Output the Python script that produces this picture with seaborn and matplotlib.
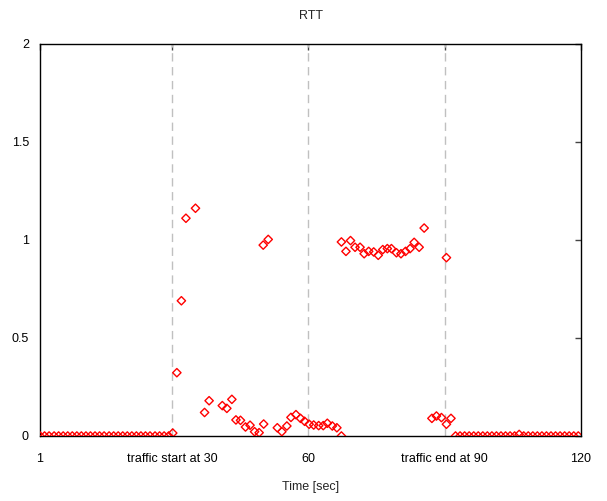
import numpy as np
import pandas as pd
import seaborn as sns
import matplotlib.pyplot as plt

# sample times (sec) and RTT values
time_before = [1.0, 2.0, 3.0, 4.1, 5.1, 6.1, 7.1, 8.1, 9.1, 10.1, 11.1, 12.1, 13.1, 14.1,
               15.1, 16.2, 17.2, 18.2, 19.2, 20.2, 21.2, 22.2, 23.2, 24.2, 25.2, 26.3,
               27.3, 28.3, 29.3]
rtt_before = [0.0] * 29

time_traffic = [30.2, 31.1, 32.1, 33.1, 35.2, 37.2, 38.2, 41.1, 42.1, 43.2, 44.1, 45.1,
                46.2, 47.2, 48.2, 49.2, 50.2, 50.1, 51.2, 53.2, 54.2, 55.3, 56.2, 57.3,
                58.3, 59.2, 60.2, 61.2, 62.3, 63.3, 64.2, 65.3, 66.3, 67.3, 67.3, 68.3,
                69.3, 70.3, 71.4, 72.3, 73.3, 74.4, 75.4, 76.4, 77.4, 78.3, 79.4, 80.4,
                81.4, 82.4, 83.3, 84.4, 85.5, 87.2, 88.2, 89.3, 90.4, 90.4, 91.4]
rtt_traffic = [0.015, 0.323, 0.69, 1.111, 1.162, 0.12, 0.18, 0.155, 0.141, 0.187, 0.082,
               0.08, 0.046, 0.055, 0.022, 0.017, 0.061, 0.974, 1.003, 0.042, 0.022, 0.051,
               0.095, 0.109, 0.09, 0.075, 0.06, 0.056, 0.053, 0.053, 0.065, 0.051, 0.042,
               0.0, 0.99, 0.942, 0.997, 0.963, 0.963, 0.93, 0.942, 0.939, 0.922, 0.951,
               0.956, 0.956, 0.935, 0.93, 0.942, 0.956, 0.988, 0.963, 1.061, 0.09, 0.102,
               0.094, 0.06, 0.91, 0.09]

time_after = [92.4, 93.4, 94.4, 95.4, 96.4, 97.4, 98.4, 99.4, 100.4, 101.4, 102.4, 103.4,
              104.4, 105.4, 106.4, 107.4, 108.4, 109.4, 110.4, 111.4, 112.4, 113.4, 114.4,
              115.4, 116.4, 117.4, 118.4, 119.4]
rtt_after = [0.0] * 14 + [0.008] + [0.0] * 13

tick_pos = [1, 30, 60, 90, 120]
tick_labels = ['1', 'traffic start at 30', '60', 'traffic end at 90', '120']
event_lines = [30, 60, 90]

df = pd.DataFrame({
    'time': time_before + time_traffic + time_after,
    'rtt': rtt_before + rtt_traffic + rtt_after,
})

sns.set_style('white')
plt.rcParams['font.family'] = ['Liberation Sans', 'DejaVu Sans']

fig = plt.figure(figsize=(6.07, 5.01), dpi=100)
ax = fig.add_axes([40 / 607, 65 / 501, 541 / 607, 392 / 501])

for x in event_lines:
    ax.axvline(x, color='#c0c0c0', lw=1, dashes=(6, 4), zorder=1)

sns.scatterplot(data=df, x='time', y='rtt', marker='D', s=18, facecolor='none',
                edgecolor='red', linewidth=1, ax=ax, zorder=3)

ax.set_xlim(1, 120)
ax.set_ylim(0, 2)
ax.set_xticks(tick_pos)
ax.set_xticklabels(tick_labels)
ax.set_yticks([0, 0.5, 1, 1.5, 2])
ax.set_yticklabels(['0', '0.5', '1', '1.5', '2'])
ax.tick_params(direction='in', length=4, width=1, colors='#444444', labelcolor='black',
               labelsize=9, top=True, right=True)
ax.tick_params(axis='x', pad=12)
ax.tick_params(axis='y', pad=8)
for sp in ax.spines.values():
    sp.set_color('black')
    sp.set_linewidth(1)

ax.set_title('RTT', fontsize=9, pad=18)
ax.set_xlabel('Time [sec]', fontsize=9, labelpad=12)
ax.set_ylabel('')

fig.savefig('out.png', dpi=100)
